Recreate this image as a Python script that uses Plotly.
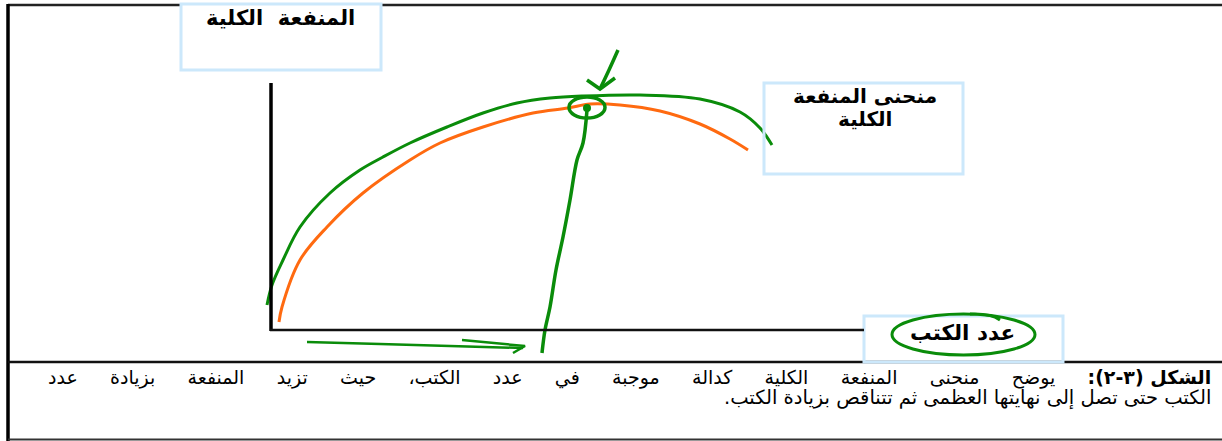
import plotly.graph_objects as go

# ---- data (in page pixel units) ----
orange_x = [279, 282, 300, 327, 363, 410, 440, 483, 533, 568, 590, 620, 660, 700, 730, 748]
orange_y = [322, 307, 260, 227, 193, 160, 143, 127, 113, 108, 104, 105, 111, 124, 139, 150]

green_x = [267, 272, 283, 300, 330, 360, 383, 410, 447, 483, 517, 550, 583, 640, 700, 740, 760, 772]
green_y = [305, 285, 260, 227, 193, 170, 157, 143, 127, 113, 103, 98, 96, 95, 99, 112, 128, 145]

drop_x = [587, 583, 577, 570, 563, 556, 550, 545, 542]
drop_y = [110, 143, 160, 200, 237, 270, 307, 330, 353]

arrow_down_x = [618, 609, 600]
arrow_down_y = [50, 70, 89]
arrow_down_wing_x = [587, 600, 615]
arrow_down_wing_y = [80, 89, 78]

arrow_right_x = [307, 380, 450, 523]
arrow_right_y = [342, 344, 346, 348]
arrow_right_wing_x = [462, 525, 513]
arrow_right_wing_y = [340, 346, 353]

y_axis_label = "المنفعة  الكلية"
curve_label_1 = "منحنى المنفعة"
curve_label_2 = "الكلية"
x_axis_label = "عدد الكتب"
caption_bold = "الشكل (٣-٢):"
caption_line1 = "يوضح منحنى المنفعة الكلية كدالة موجبة في عدد الكتب، حيث تزيد المنفعة بزيادة عدد"
caption_line2 = "الكتب حتى تصل إلى نهايتها العظمى ثم تتناقص بزيادة الكتب.\u200f"

GREEN = "#0a8c0a"
ORANGE = "#ff6a10"
BLUE = "#cce8fb"
FONT = "DejaVu Sans, Arial, sans-serif"
GAP = "\u2003\u2002\u2009"

fig = go.Figure()

def line(x, y, color, width, shape="spline"):
    fig.add_trace(go.Scatter(x=x, y=y, mode="lines", hoverinfo="skip",
                             line=dict(color=color, width=width, shape=shape)))

line(orange_x, orange_y, ORANGE, 3)
line(green_x, green_y, GREEN, 3)
line(drop_x, drop_y, GREEN, 3.5)
line(arrow_down_x, arrow_down_y, GREEN, 3.5)
line(arrow_down_wing_x, arrow_down_wing_y, GREEN, 3.5, "linear")
line(arrow_right_x, arrow_right_y, GREEN, 2.5)
line(arrow_right_wing_x, arrow_right_wing_y, GREEN, 2.5, "linear")
fig.add_trace(go.Scatter(x=[587], y=[108], mode="markers", hoverinfo="skip",
                         marker=dict(color=GREEN, size=8)))

shapes = []
shapes.append(dict(type="line", x0=8, y0=5, x1=1222, y1=5, line=dict(color="#222", width=2.5)))
shapes.append(dict(type="line", x0=8, y0=4, x1=8, y1=441, line=dict(color="black", width=3.5)))
shapes.append(dict(type="line", x0=8, y0=362, x1=1222, y1=362, line=dict(color="#111", width=2.5)))
shapes.append(dict(type="line", x0=8, y0=439.5, x1=1222, y1=439.5, line=dict(color="#333", width=2)))
shapes.append(dict(type="rect", x0=181, y0=4, x1=381, y1=70, line=dict(color=BLUE, width=3), fillcolor="white"))
shapes.append(dict(type="rect", x0=764, y0=83, x1=963, y1=174, line=dict(color=BLUE, width=3), fillcolor="rgba(0,0,0,0)"))
shapes.append(dict(type="rect", x0=864, y0=316, x1=1063, y1=362, line=dict(color=BLUE, width=3), fillcolor="rgba(0,0,0,0)"))
shapes.append(dict(type="line", x0=271, y0=83, x1=271, y1=331, line=dict(color="black", width=3.5)))
shapes.append(dict(type="line", x0=270, y0=330, x1=864, y1=330, line=dict(color="#111", width=2.5)))
shapes.append(dict(type="circle", x0=569, y0=97, x1=605, y1=118, line=dict(color=GREEN, width=3.5)))
shapes.append(dict(type="circle", x0=892, y0=314, x1=1035, y1=355, line=dict(color=GREEN, width=3)))
shapes.append(dict(type="path", path="M 970,314 Q 990,313 1000,320", line=dict(color=GREEN, width=3)))
for s in shapes:
    s.setdefault("layer", "above")
fig.update_layout(shapes=shapes)

def txt(x, y, t, size, anchor="center"):
    return dict(x=x, y=y, text=t, showarrow=False, xanchor=anchor, yanchor="middle",
                font=dict(family=FONT, size=size, color="black"))

ann = [
    txt(280, 18, "<b>" + y_axis_label + "</b>", 21),
    txt(865, 96, "<b>" + curve_label_1 + "</b>", 20),
    txt(865, 119, "<b>" + curve_label_2 + "</b>", 20),
    txt(962, 332, "<b>" + x_axis_label + "</b>", 21.5),
    txt(1213, 377, "<b>" + caption_bold + "</b>" + GAP + caption_line1.replace(" ", GAP), 19, "right"),
    txt(1213, 398, caption_line2, 19.5, "right"),
]
fig.update_layout(annotations=ann)

fig.update_layout(
    width=1222, height=441, margin=dict(l=0, r=0, t=0, b=0),
    paper_bgcolor="white", plot_bgcolor="white", showlegend=False,
    xaxis=dict(range=[0, 1222], visible=False, fixedrange=True),
    yaxis=dict(range=[441, 0], visible=False, fixedrange=True),
)
fig.write_html("out.html", config={"displayModeBar": False},
               post_script="document.body.style.margin='0';document.body.style.overflow='hidden';")
